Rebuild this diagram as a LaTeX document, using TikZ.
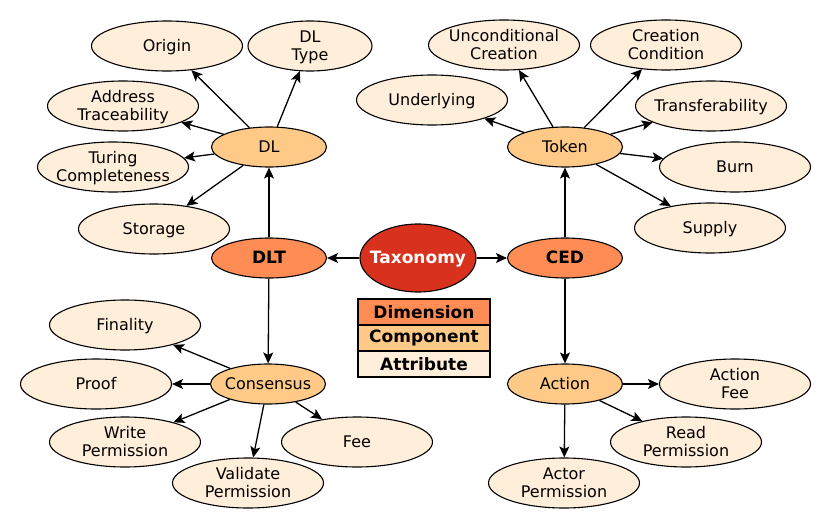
\documentclass[tikz,border=0pt]{standalone}
\usepackage{fontspec}
\setmainfont{DejaVu Sans}
\usetikzlibrary{shapes.geometric,arrows.meta}
\definecolor{taxred}{HTML}{D8321F}
\definecolor{dimcol}{HTML}{FF8C55}
\definecolor{compcol}{HTML}{FFCA88}
\definecolor{attrcol}{HTML}{FFEED9}
% label of zero size, so that the ellipse keeps its given size
\newcommand{\elbl}[1]{\raisebox{-6pt}[0pt][0pt]{\makebox[0pt]{\begin{tabular}{@{}c@{}}#1\end{tabular}}}}
\tikzset{
	attr/.style={draw, line width=1.1pt, ellipse, fill=attrcol, inner sep=0pt, minimum width=151, minimum height=50},
	comp/.style={draw, line width=1.1pt, ellipse, fill=compcol, inner sep=0pt, minimum width=115, minimum height=40},
	dim/.style={draw, line width=1.1pt, ellipse, fill=dimcol, inner sep=0pt, minimum width=115, minimum height=40, font=\fontsize{17}{19}\selectfont\bfseries},
	legbox/.style={draw, line width=1.1pt, rectangle, inner sep=0pt, minimum width=132, minimum height=26, font=\fontsize{17}{19}\selectfont\bfseries},
	edge/.style={line width=1.3pt, -{Stealth[length=11pt, width=10pt, inset=2.5pt]}}
}
\begin{document}
\begin{tikzpicture}[x=1pt, y=-1pt, font=\fontsize{16}{18.5}\selectfont]
	\useasboundingbox (0,0) rectangle (830,530);
	
	% centre and dimensions
	\node[draw, line width=1.1pt, ellipse, fill=taxred, text=white, inner sep=0pt, minimum width=116, minimum height=68, font=\fontsize{17}{19}\selectfont\bfseries] (tax) at (418,258) {\elbl{Taxonomy}};
	\node[dim] (dlt) at (269,258) {\elbl{DLT}};
	\node[dim] (ced) at (565,258) {\elbl{CED}};
	
	% components
	\node[comp] (dl) at (269,147) {\elbl{DL}};
	\node[comp] (token) at (565,147) {\elbl{Token}};
	\node[comp] (cons) at (268,384) {\elbl{Consensus}};
	\node[comp] (action) at (565,384) {\elbl{Action}};
	
	% attributes
	\node[attr, minimum width=124] (dltype) at (310,46) {\elbl{DL\\Type}};
	\foreach \name/\x/\y/\txt in {origin/167/46/{Origin}, addr/123/106/{Address\\Traceability},
		turing/113/167/{Turing\\Completeness}, storage/154/229/{Storage},
		under/432/100/{Underlying}, uncond/504/45/{Unconditional\\Creation}, cond/666/45/{Creation\\Condition},
		transf/711/106/{Transferability}, burn/735/167/{Burn}, supply/710/228/{Supply},
		final/125/325/{Finality}, proof/96/384/{Proof}, write/125/442/{Write\\Permission},
		valid/248/483/{Validate\\Permission}, fee/357/442/{Fee},
		actfee/735/384/{Action\\Fee}, read/686/442/{Read\\Permission}, actor/564/483/{Actor\\Permission}}
	{
		\node[attr] (\name) at (\x,\y) {\elbl{\txt}};
	}
	
	% legend
	\node[legbox, fill=dimcol] (leg1) at (424,312) {Dimension};
	\node[legbox, fill=compcol] (leg2) at (424,338) {Component};
	\node[legbox, fill=attrcol] (leg3) at (424,364) {Attribute};
	
	% edges
	\foreach \a/\b in {tax/dlt, tax/ced, dlt/dl, dlt/cons, ced/token, ced/action,
		dl/origin, dl/dltype, dl/addr, dl/turing, dl/storage,
		token/under, token/uncond, token/cond, token/transf, token/burn, token/supply,
		cons/final, cons/proof, cons/write, cons/valid, cons/fee,
		action/actfee, action/read, action/actor}
	{
		\draw[edge] (\a) -- (\b);
	}
\end{tikzpicture}
\end{document}
